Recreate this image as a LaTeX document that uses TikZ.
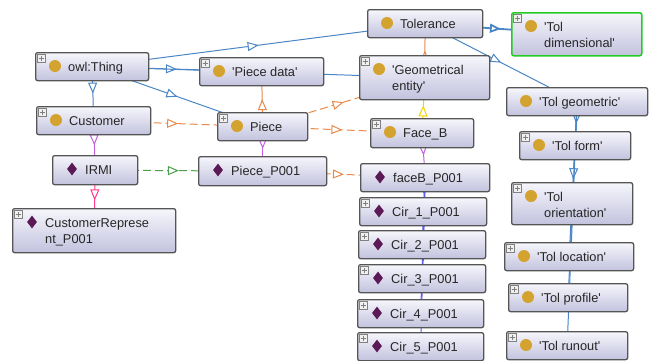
\documentclass[tikz,border=0pt]{standalone}
\usepackage{fontspec}
\setmainfont{Liberation Sans}
\usetikzlibrary{arrows.meta,decorations.markings,backgrounds,shapes.geometric}

\definecolor{isablue}{HTML}{4A86C5}
\definecolor{hasorange}{HTML}{E8884A}
\definecolor{faceyellow}{HTML}{F2D500}
\definecolor{instviolet}{HTML}{C45FE0}
\definecolor{reppink}{HTML}{FF3C8C}
\definecolor{linkgreen}{HTML}{4CA04C}
\definecolor{cirblue}{HTML}{5A5AF0}
\definecolor{clsgold}{HTML}{D4A22E}
\definecolor{indplum}{HTML}{5B1A55}
\definecolor{boxedge}{HTML}{555555}
\definecolor{boxtop}{HTML}{F6F6FC}
\definecolor{boxbottom}{HTML}{C2C2DE}
\definecolor{selgreen}{HTML}{22CC22}

\newcommand{\apos}{\textquotesingle}

\tikzset{
  box/.style={draw=boxedge, line width=1.3pt, rounded corners=2pt,
    top color=boxtop, bottom color=boxbottom, inner sep=0pt},
  cls/.style={circle, fill=clsgold, minimum size=12pt, inner sep=0pt},
  ind/.style={diamond, fill=indplum, minimum width=10pt, minimum height=13pt, inner sep=0pt},
  plusbox/.style={draw=gray, fill=black!6, minimum size=8pt, inner sep=0pt, line width=0.6pt,
    path picture={\draw[line width=0.8pt]
      ([xshift=-2.5pt]path picture bounding box.center) -- ([xshift=2.5pt]path picture bounding box.center)
      ([yshift=-2.5pt]path picture bounding box.center) -- ([yshift=2.5pt]path picture bounding box.center);}},
  txt/.style={anchor=base west, inner sep=0pt, text=black!85, font=\fontsize{12.8}{16}\selectfont},
  midarr/.style={postaction={decorate}, decoration={markings,
    mark=at position 0.5 with {\arrow{Triangle[length=11pt,width=9pt,fill=white]}}}},
  isa/.style={draw=isablue, line width=1pt, midarr},
  has/.style={draw=hasorange, line width=1pt, midarr},
  hasdash/.style={has, dash pattern=on 8pt off 4pt},
  yel/.style={draw=faceyellow, line width=1pt, midarr},
  vio/.style={draw=instviolet, line width=1pt, midarr},
  grn/.style={draw=linkgreen, line width=1pt, dash pattern=on 8pt off 4pt, midarr},
  pnk/.style={draw=reppink, line width=1pt, midarr},
  cirl/.style={draw=cirblue, line width=1pt, midarr}
}

% entity box: [options]{name}{left}{top}{width}{height}{icon}{line 1}{line 2}
\newcommand{\ent}[9][]{%
  \node[box, anchor=north west, minimum width=#5pt, minimum height=#6pt, #1] (#2) at (#3,#4) {};
  \node[#7] at ([xshift=20pt,yshift=-14pt]#2.north west) {};
  \node[txt] at ([xshift=33pt,yshift=-19pt]#2.north west) {#8};
  \node[txt] at ([xshift=33pt,yshift=-35pt]#2.north west) {#9};
}

\begin{document}
\begin{tikzpicture}[x=1pt,y=-1pt]
  \useasboundingbox (0,0) rectangle (652,360);

  % classes
  \ent{thing}{35}{52}{113}{28}{cls}{owl:Thing}{}
  \ent{piecedata}{199}{57}{124}{28}{cls}{\apos Piece data\apos}{}
  \ent{tol}{367}{9}{115}{28}{cls}{Tolerance}{}
  \ent[draw=selgreen, line width=1.5pt]{toldim}{511}{12}{130}{43}{cls}{\apos Tol}{dimensional\apos}
  \ent{geom}{359}{55}{130}{44}{cls}{\apos Geometrical}{entity\apos}
  \ent{customer}{36}{106}{114}{28}{cls}{Customer}{}
  \ent{piece}{217}{112}{90}{28}{cls}{Piece}{}
  \ent{faceb}{370}{118}{103}{29}{cls}{Face\_B}{}
  \ent{tolgeo}{506}{87}{141}{28}{cls}{\apos Tol geometric\apos}{}
  \ent{tolform}{519}{131}{111}{28}{cls}{\apos Tol form\apos}{}
  \ent{tolori}{511}{182}{121}{42}{cls}{\apos Tol}{orientation\apos}
  \ent{tolloc}{504}{242}{129}{28}{cls}{\apos Tol location\apos}{}
  \ent{tolpro}{508}{283}{119}{28}{cls}{\apos Tol profile\apos}{}
  \ent{tolrun}{506}{331}{121}{28}{cls}{\apos Tol runout\apos}{}

  % individuals
  \ent{irmi}{52}{155}{85}{29}{ind}{IRMI}{}
  \ent{piecep}{198}{156}{128}{29}{ind}{Piece\_P001}{}
  \ent{facebp}{360}{163}{129}{28}{ind}{faceB\_P001}{}
  \ent{custrep}{12}{208}{163}{44}{ind}{CustomerReprese}{nt\_P001}
  \ent{cir1}{359}{197}{127}{28}{ind}{Cir\_1\_P001}{}
  \ent{cir2}{358}{230}{127}{28}{ind}{Cir\_2\_P001}{}
  \ent{cir3}{358}{264}{127}{28}{ind}{Cir\_3\_P001}{}
  \ent{cir4}{357}{299}{126}{28}{ind}{Cir\_4\_P001}{}
  \ent{cir5}{357}{332}{126}{28}{ind}{Cir\_5\_P001}{}

  \foreach \n in {thing,piecedata,toldim,geom,customer,piece,faceb,tolform,tolori,
      tolloc,tolpro,tolrun,custrep,cir1,cir2,cir3,cir4,cir5}
    \node[plusbox] at ([xshift=6pt,yshift=-6pt]\n.north west) {};

  \begin{scope}[on background layer]
    \draw[isa] (thing.center) -- (tol.center);
    \draw[isa] (thing.center) -- (piecedata.center);
    \draw[isa] (thing.center) -- (geom.center);
    \draw[isa] (thing.center) -- (piece.center);
    \draw[isa] (thing.center) -- (customer.center);
    \draw[isa, line width=1.8pt] (tol.center) -- (toldim.center);
    \draw[isa] (tol.center) -- (tolgeo.center);
    \foreach \n in {tolform,tolori,tolloc,tolpro,tolrun}
      \draw[isa] (tolgeo.center) -- (\n.center);
    \draw[has] (geom.center) -- (tol.center);
    \draw[has] (piece.center) -- (piecedata.center);
    \draw[hasdash] (customer.center) -- (piece.center);
    \draw[hasdash] (piece.center) -- (geom.center);
    \draw[hasdash] (piece.center) -- (faceb.center);
    \draw[hasdash] (piecep.center) -- (facebp.center);
    \draw[yel] (faceb.center) -- (geom.center);
    \draw[vio] (faceb.center) -- (facebp.center);
    \draw[vio] (customer.center) -- (irmi.center);
    \draw[vio] (piece.center) -- (piecep.center);
    \draw[grn] (irmi.center) -- (piecep.center);
    \draw[pnk] (irmi.center) -- (custrep.center);
    \foreach \i in {1,...,5}
      \draw[cirl] (facebp.center) -- (cir\i.center);
  \end{scope}
\end{tikzpicture}
\end{document}
